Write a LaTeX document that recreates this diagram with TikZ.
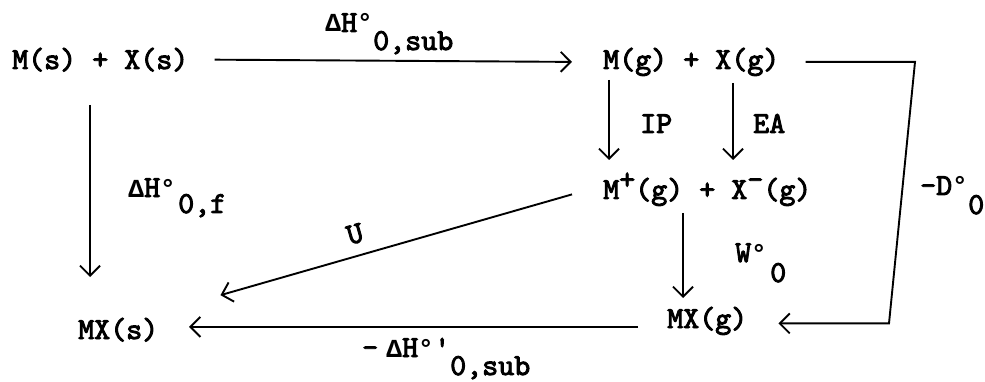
\documentclass[tikz,border=0pt]{standalone}
\usepackage{fontspec}
\newfontfamily\tw{lmmono10-regular.otf}[FakeBold=3]
\newfontfamily\dfont{Liberation Mono}[BoldFont={Liberation Mono Bold}]
\usetikzlibrary{arrows.meta}
\newcommand{\Dl}{\makebox[16pt]{\dfont\bfseries\fontsize{26}{30}\selectfont Δ}}
\newcommand{\dg}{\makebox[16pt][l]{\dfont\bfseries\fontsize{26}{30}\selectfont °}}
\tikzset{
  lbl/.style={inner sep=0pt, anchor=base west, font=\tw\fontsize{30.5}{34}\selectfont},
  arr/.style={line width=1.9pt, -{Straight Barb[length=10pt,width=20pt,line width=1.9pt]}},
  ln/.style={line width=1.9pt}
}
\begin{document}
\begin{tikzpicture}[x=1pt,y=-1pt]
\useasboundingbox[fill=white] (0,0) rectangle (985,382);
% main nodes
\node[lbl] (A) at (12,69) {M(s) + X(s)};
\node[lbl] (B) at (603,69) {M(g) + X(g)};
\node[lbl] (C) at (603,199) {M\raisebox{10pt}{+}(g) + X\raisebox{10pt}{-}(g)};
\node[lbl] (D) at (667,328) {MX(g)};
\node[lbl] (E) at (78,339) {MX(s)};
% helper x positions
\coordinate (lx) at (90,0);
\coordinate (ipx) at (609,0);
\coordinate (eax) at (733,0);
\coordinate (wx) at (683,0);
\coordinate (rx) at (889,0);
\coordinate (bx) at (218,0);
% connectors
\draw[arr] ([xshift=26]A.east) -- ([xshift=-31]B.west);
\draw[arr] ([yshift=-36]A.base -| lx) -- ([yshift=62]E.base -| lx);
\draw[arr] ([yshift=-11]B.base -| ipx) -- ([yshift=39]C.base -| ipx);
\draw[arr] ([yshift=-14]B.base -| eax) -- ([yshift=39]C.base -| eax);
\draw[arr] ([yshift=-14]C.base -| wx) -- ([yshift=30]D.base -| wx);
\draw[arr] ([xshift=-31,yshift=-5]C.west) -- ([xshift=62,yshift=34.5]E.east);
\draw[arr] ([xshift=-29,yshift=-6]D.west) -- ([xshift=-29,yshift=-6]D.west -| bx);
\draw[arr] ([xshift=26]B.east) -- ([xshift=26]B.east -| rx) -- ([yshift=-2.5]D.east -| rx) -- ([xshift=31,yshift=-2.5]D.east);
% labels
\node[lbl] (t1) at (325,32) {\Dl H\dg};
\node[lbl] (t2) at (373,50) {0,sub};
\node[lbl] (ip) at (640,133) {IP};
\node[lbl] (ea) at (753,133) {EA};
\node[lbl] (l1) at (128,197) {\Dl H\dg};
\node[lbl] (l2) at (178,213) {0,f};
\node[lbl] (w1) at (735,262) {W\dg};
\node[lbl] (w2) at (770,282) {0};
\node[lbl] (d1) at (920,195) {-D\dg};
\node[lbl] (d2) at (968,214) {0};
\node[lbl] (b1) at (362,357) {-\hspace{8pt}\Dl H\dg\makebox[8pt][l]{'}};
\node[lbl] (b2) at (450,375) {0,sub};
\node[lbl, anchor=center, rotate=16] (u) at (355,234) {U};
\end{tikzpicture}
\end{document}
